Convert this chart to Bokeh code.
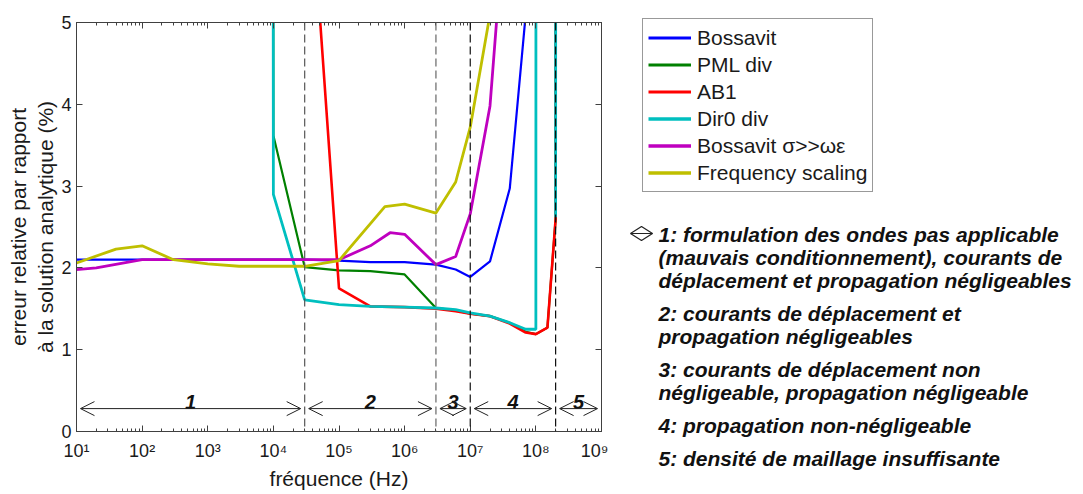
from bokeh.plotting import figure
from bokeh.models import (Range1d, FixedTicker, LogAxis, LinearAxis, Span, Arrow,
                          OpenHead, Legend, LegendItem, Label)
from bokeh.layouts import row
from bokeh.embed import file_html
from bokeh.resources import INLINE
from bokeh.core.properties import value

FONT = "Liberation Sans"

# ---------------- data ----------------
series_names = ["Bossavit", "PML div", "AB1", "Dir0 div", "Bossavit σ>>ωε", "Frequency scaling"]
series_colors = ["#0000ff", "#008000", "#ff0000", "#00bfbf", "#bf00bf", "#bfbf00"]
series_widths = [2.2, 2.2, 2.6, 2.8, 2.8, 2.8]

f_bossavit = [10, 100, 1e3, 1e4, 3e4, 1e5, 3e5, 1e6, 3e6, 6e6, 1e7, 2e7, 4e7, 7e7]
e_bossavit = [2.10, 2.10, 2.10, 2.10, 2.10, 2.09, 2.07, 2.07, 2.04, 1.98, 1.89, 2.08, 2.97, 5.10]

f_pml = [3e3, 1e4, 3e4, 1e5, 3e5, 1e6, 3e6, 6e6, 1e7, 2e7, 4e7, 7e7, 1e8, 1.5e8, 2e8, 3e8]
e_pml = [400, 3.62, 2.01, 1.97, 1.96, 1.92, 1.51, 1.48, 1.44, 1.41, 1.33, 1.22, 1.19, 1.27, 2.60, 500]

f_ab1 = [3e4, 1e5, 3e5, 1e6, 3e6, 6e6, 1e7, 2e7, 4e7, 7e7, 1e8, 1.5e8, 2e8, 3e8]
e_ab1 = [7.7, 1.75, 1.53, 1.52, 1.50, 1.47, 1.44, 1.41, 1.32, 1.21, 1.19, 1.27, 2.60, 500]

f_dir0 = [3e3, 1e4, 3e4, 1e5, 3e5, 1e6, 3e6, 6e6, 1e7, 2e7, 4e7, 7e7, 1e8, 1.5e8, 2e8, 3e8]
e_dir0 = [500, 2.90, 1.61, 1.55, 1.53, 1.52, 1.51, 1.49, 1.45, 1.41, 1.33, 1.25, 1.25, 1000, 2.62, 1000]

f_boss_sig = [10, 20, 100, 1e3, 1e4, 3e4, 1e5, 3e5, 6e5, 1e6, 3e6, 6e6, 1e7, 2e7, 3e7]
e_boss_sig = [1.98, 2.00, 2.10, 2.10, 2.10, 2.10, 2.10, 2.27, 2.43, 2.41, 2.04, 2.14, 2.66, 3.98, 5.80]

f_fscal = [10, 40, 100, 300, 1e3, 3e3, 1e4, 3e4, 1e5, 5e5, 1e6, 3e6, 6e6, 1e7, 2e7]
e_fscal = [2.06, 2.23, 2.27, 2.10, 2.05, 2.02, 2.02, 2.02, 2.09, 2.75, 2.78, 2.67, 3.05, 3.72, 5.10]

series_f = [f_bossavit, f_pml, f_ab1, f_dir0, f_boss_sig, f_fscal]
series_e = [e_bossavit, e_pml, e_ab1, e_dir0, e_boss_sig, e_fscal]

region_bounds = [10, 3e4, 3e6, 1e7, 2e8, 1e9]
region_labels = ["1", "2", "3", "4", "5"]
region_line_colors = ["#555555", "#666666", "#111111", "#111111"]

x_tick_exps = list(range(1, 10))
y_ticks = [0, 1, 2, 3, 4, 5]

notes = [
    ["1: formulation des ondes pas applicable",
     "(mauvais conditionnement), courants de",
     "déplacement et propagation négligeables"],
    ["2: courants de déplacement et",
     "propagation négligeables"],
    ["3: courants de déplacement non",
     "négligeable, propagation négligeable"],
    ["4: propagation non-négligeable"],
    ["5: densité de maillage insuffisante"],
]

SUP = str.maketrans("0123456789", "⁰¹²³⁴⁵⁶⁷⁸⁹")
TXT = "#1a1a1a"

# layout geometry (pixels)
W_MAIN, H = 608, 492
B_LEFT, B_RIGHT, B_TOP, B_BOTTOM = 76, 7, 22, 61

# ---------------- main plot ----------------
p = figure(width=W_MAIN, height=H, x_axis_type="log",
           x_range=Range1d(10, 1e9), y_range=Range1d(0, 5),
           output_backend="svg", toolbar_location=None,
           min_border_left=B_LEFT, min_border_right=B_RIGHT,
           min_border_top=B_TOP, min_border_bottom=B_BOTTOM)
p.frame_align = False
p.grid.visible = False
p.outline_line_color = "#404040"
p.background_fill_color = "white"
p.border_fill_color = "white"

major_x = [10.0 ** k for k in x_tick_exps]
minor_x = [m * 10.0 ** k for k in x_tick_exps[:-1] for m in range(2, 10)]


def style_axis(ax, show_labels):
    ax.axis_line_color = "#404040"
    ax.major_tick_line_color = "#404040"
    ax.minor_tick_line_color = "#404040"
    ax.major_tick_in = 6
    ax.major_tick_out = 0
    ax.minor_tick_in = 3
    ax.minor_tick_out = 0
    if show_labels:
        ax.major_label_text_font = FONT
        ax.major_label_text_font_size = "18px"
        ax.major_label_text_color = TXT
    else:
        ax.major_label_text_font_size = "1px"
        ax.major_label_text_color = None
        ax.major_label_standoff = 0


p.xaxis.ticker = FixedTicker(ticks=major_x, minor_ticks=minor_x)
p.yaxis.ticker = FixedTicker(ticks=y_ticks, minor_ticks=[])
style_axis(p.xaxis[0], True)
style_axis(p.yaxis[0], True)
p.xaxis.major_label_overrides = {10.0 ** k: "10" + str(k).translate(SUP) for k in x_tick_exps}
p.xaxis.major_label_standoff = 9
p.yaxis.major_label_standoff = 5
p.xaxis.axis_label = "fréquence (Hz)"
p.yaxis.axis_label = "erreur relative par rapport\nà la solution analytique (%)"
for ax in (p.xaxis[0], p.yaxis[0]):
    ax.axis_label_text_font = FONT
    ax.axis_label_text_font_size = "21px"
    ax.axis_label_text_font_style = "normal"
    ax.axis_label_text_color = TXT
p.xaxis.axis_label_standoff = 3
p.yaxis.axis_label_standoff = 1

top_ax = LogAxis(ticker=FixedTicker(ticks=major_x, minor_ticks=minor_x))
right_ax = LinearAxis(ticker=FixedTicker(ticks=y_ticks, minor_ticks=[]))
style_axis(top_ax, False)
style_axis(right_ax, False)
p.add_layout(top_ax, "above")
p.add_layout(right_ax, "right")

for f, e, c, w in zip(series_f, series_e, series_colors, series_widths):
    p.line(f, e, line_color=c, line_width=w)

for loc, col in zip(region_bounds[1:-1], region_line_colors):
    p.add_layout(Span(location=loc, dimension="height", line_color=col,
                      line_dash="8 4", line_width=1.2))

gap = 1.15
arrow_y = 0.28
for i in range(len(region_labels)):
    a, b = region_bounds[i], region_bounds[i + 1]
    p.add_layout(Arrow(x_start=a * gap, x_end=b / gap, y_start=arrow_y, y_end=arrow_y,
                       line_color="#222222", line_width=1,
                       start=OpenHead(size=14, line_color="#222222", line_width=1),
                       end=OpenHead(size=14, line_color="#222222", line_width=1)))
mids = [(region_bounds[i] * region_bounds[i + 1]) ** 0.5 for i in range(len(region_labels))]
p.text(x=mids, y=[0.36] * len(mids), text=region_labels,
       text_font=value(FONT), text_font_style="bold italic", text_font_size="20px",
       text_align="center", text_baseline="alphabetic", text_color="#111111")

# ---------------- side panel: legend + notes ----------------
# side frame fills its whole canvas; data coordinates == page pixels (offset in x)
S_LEFT = 12
W_SIDE = 470
side = figure(width=W_SIDE, height=H,
              x_range=Range1d(0, W_SIDE - S_LEFT), y_range=Range1d(H, 0),
              output_backend="svg", toolbar_location=None,
              x_axis_location=None, y_axis_location=None,
              min_border_left=S_LEFT, min_border_right=0,
              min_border_top=0, min_border_bottom=0)
side.frame_align = False
side.grid.visible = False
side.outline_line_color = None
side.border_fill_color = "white"
side.background_fill_color = "white"

items = []
for name, c, w in zip(series_names, series_colors, series_widths):
    r = side.line([0, 0], [-10, -10], line_color=c, line_width=w + 0.6)
    items.append(LegendItem(label=name, renderers=[r]))
leg = Legend(items=items, location=(22, 300), label_text_font=FONT,
             label_text_font_size="21px", label_text_color=TXT,
             glyph_width=43, glyph_height=27, label_height=27, label_standoff=6,
             padding=5, spacing=0, margin=0,
             border_line_color="#333333", border_line_width=1,
             background_fill_color="white", background_fill_alpha=1)
side.add_layout(leg)

y0 = 234
line_step = 23
item_step = 33
yy = y0
for k, block in enumerate(notes):
    if k > 0:
        yy += item_step - line_step
    for line in block:
        side.add_layout(Label(x=38, y=yy, x_units="data", y_units="data", text=line,
                              text_font=FONT, text_font_style="bold italic",
                              text_font_size="21px", text_baseline="alphabetic",
                              text_align="left", text_color="#111111"))
        yy += line_step

# small double-arrow symbol before the notes
sym_x, sym_y, sym_w, sym_h = 10, 233, 22, 7
side.multi_line(
    xs=[[sym_x, sym_x + sym_w / 2, sym_x + sym_w, sym_x + sym_w / 2, sym_x],
        [sym_x, sym_x + sym_w]],
    ys=[[sym_y, sym_y - sym_h, sym_y, sym_y + sym_h, sym_y], [sym_y, sym_y]],
    line_color="#222222", line_width=1.2)

layout = row(p, side)
open("out.html", "w").write(file_html(layout, INLINE))
